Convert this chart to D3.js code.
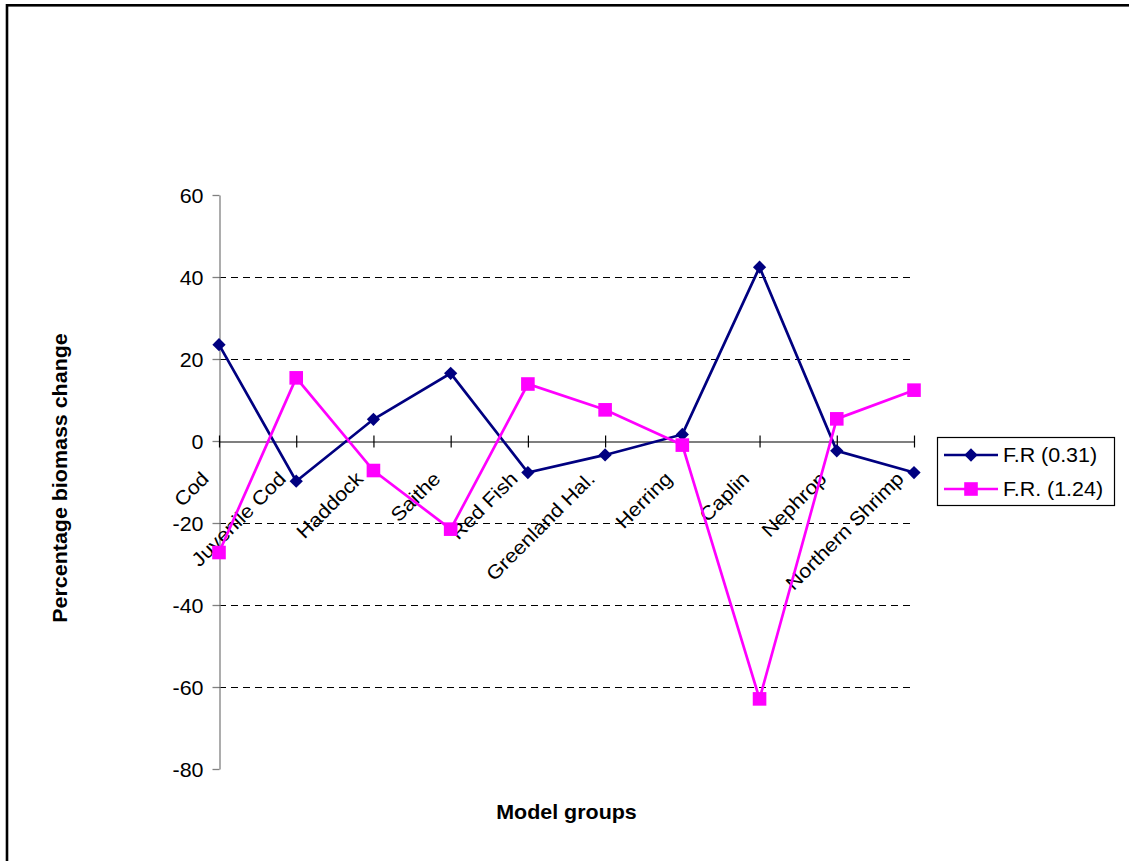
<!DOCTYPE html>
<html><head><meta charset="utf-8">
<script src="https://cdn.jsdelivr.net/npm/d3@7"></script>
<style>
body{margin:0;background:#fff;}
svg{display:block;}
text{font-family:"Liberation Sans",Arial,Helvetica,sans-serif;fill:#000;}
</style>
</head><body>
<svg id="chart" width="1129" height="861"></svg>
<script>
const categories = ["Cod","Juvenile Cod","Haddock","Saithe","Red Fish","Greenland Hal.","Herring","Caplin","Nephrop","Northern Shrimp"];
const seriesNames = ["F.R (0.31)","F.R. (1.24)"];
const fr031 = [23.5,-9.8,5.3,16.5,-7.7,-3.4,1.6,42.4,-2.4,-7.7];
const fr124 = [-27.2,15.4,-7.2,-21.5,13.9,7.6,-1.0,-62.9,5.4,12.4];
const yTicks = [-80,-60,-40,-20,0,20,40,60];
const yTickLabels = ["-80","-60","-40","-20","0","20","40","60"];
const gridValues = [-60,-40,-20,20,40];
const seriesColors = ["#000080","#FF00FF"];

const FS = 19.5, SX = 1.1;
const svg = d3.select("#chart");

// outer frame (only top & left visible)
svg.append("rect").attr("x",7).attr("y",5.3).attr("width",1300).attr("height",1000)
  .attr("fill","none").attr("stroke","#000").attr("stroke-width",2.6);

const x = d3.scalePoint().domain(categories).range([219,914]);
const y = d3.scaleLinear().domain([-80,60]).range([769,195]);
const y0 = y(0);

// gridlines
svg.append("g").selectAll("line").data(gridValues).join("line")
  .attr("x1",219).attr("x2",914)
  .attr("y1",d=>Math.round(y(d))+0.5).attr("y2",d=>Math.round(y(d))+0.5)
  .attr("stroke","#000").attr("stroke-width",1).attr("stroke-dasharray","7,5");

// y axis
const yAxis = svg.append("g").attr("transform","translate(219.5,0)")
  .call(d3.axisLeft(y).tickValues(yTicks).tickSizeInner(7).tickSizeOuter(0).tickPadding(9)
    .tickFormat((d,i)=>yTickLabels[i]));
yAxis.select(".domain").attr("stroke","#808080").attr("stroke-width",1.3);
yAxis.selectAll(".tick line").attr("stroke","#808080").attr("stroke-width",1.3);
yAxis.selectAll(".tick text").attr("x",0).attr("dy","0.36em")
  .attr("transform","translate(-16,0) scale("+SX+",1)")
  .attr("font-size",FS).attr("font-family","Liberation Sans, Arial, sans-serif").attr("fill","#000");

// x axis at zero
const xAxis = svg.append("g").attr("transform","translate(0,"+(Math.round(y0)+0.5)+")")
  .call(d3.axisBottom(x).tickSize(6).tickSizeOuter(0).tickFormat(""));
xAxis.select(".domain").attr("stroke","#000").attr("stroke-width",1.2);
xAxis.selectAll(".tick line").attr("y1",-6).attr("y2",6).attr("stroke","#000").attr("stroke-width",1.2);

// category labels
svg.append("g").selectAll("text").data(categories).join("text")
  .attr("transform",d=>"translate("+(x(d)-9)+","+(y0+39)+") rotate(-45) scale("+SX+",1)")
  .attr("text-anchor","end").attr("font-size",FS).text(d=>d);

// series
const line = d3.line().x((d,i)=>x(categories[i])).y(d=>y(d));
const seriesData = [fr031, fr124];
const diamond = d3.symbol().type(d3.symbolSquare).size(88);
const square = d3.symbol().type(d3.symbolSquare).size(185);

seriesData.forEach((vals,si)=>{
  const g = svg.append("g");
  g.append("path").datum(vals).attr("d",line).attr("fill","none")
    .attr("stroke",seriesColors[si]).attr("stroke-width",2.7).attr("stroke-linejoin","miter");
  g.selectAll("path.m").data(vals).join("path").attr("class","m")
    .attr("d", si===0 ? diamond() : square())
    .attr("transform",(d,i)=>"translate("+x(categories[i])+","+y(d)+")"+(si===0?" rotate(45)":""))
    .attr("fill",seriesColors[si]);
});

// axis titles
svg.append("text").attr("transform","translate(67,478) rotate(-90) scale("+SX+",1)")
  .attr("text-anchor","middle").attr("font-size",FS).attr("font-weight","bold")
  .text("Percentage biomass change");
svg.append("text").attr("transform","translate(566.5,819) scale("+SX+",1)")
  .attr("text-anchor","middle").attr("font-size",FS).attr("font-weight","bold")
  .text("Model groups");

// legend
const lg = svg.append("g");
lg.append("rect").attr("x",937.5).attr("y",437.5).attr("width",177).attr("height",68)
  .attr("fill","#fff").attr("stroke","#000").attr("stroke-width",1.2);
seriesNames.forEach((name,si)=>{
  const cy = 455 + si*34;
  lg.append("line").attr("x1",944).attr("x2",998).attr("y1",cy).attr("y2",cy)
    .attr("stroke",seriesColors[si]).attr("stroke-width",2.7);
  lg.append("path").attr("d", si===0 ? diamond() : square())
    .attr("transform","translate(971,"+cy+")"+(si===0?" rotate(45)":""))
    .attr("fill",seriesColors[si]);
  lg.append("text").attr("transform","translate(1003,"+(cy+7)+") scale("+SX+",1)")
    .attr("font-size",FS).text(name);
});
</script>
</body></html>
